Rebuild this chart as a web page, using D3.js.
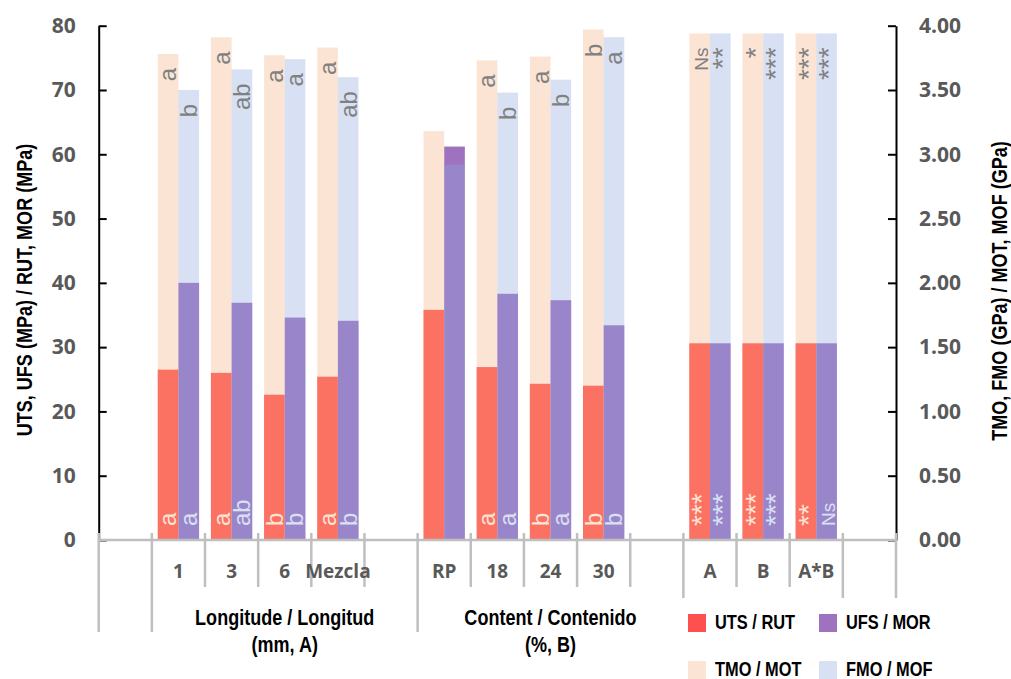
<!DOCTYPE html>
<html>
<head>
<meta charset="utf-8">
<script src="https://cdn.jsdelivr.net/npm/d3@7"></script>
<style>
  html, body { margin: 0; padding: 0; background: #fff; }
  svg { display: block; }
</style>
</head>
<body>
<svg id="chart" width="1011" height="679"></svg>
<script>
// Category slots along the x axis (empty strings are spacer slots)
const categories = ["", "1", "3", "6", "Mezcla", "", "RP", "18", "24", "30", "", "A", "B", "A*B", ""];

// Second-level groups of the category axis
const groupLines = [[], ["Longitude / Longitud", "(mm, A)"], ["Content / Contenido", "(%, B)"], [], []];
const groupSpans = [1, 5, 5, 3, 1];

// Strengths, MPa (left axis)
const utsValues = [null, 26.5, 26.0, 22.6, 25.4, null, 35.8, 26.9, 24.3, 24.0, null, 30.6, 30.6, 30.6, null];
const ufsValues = [null, 40.0, 36.9, 34.6, 34.1, null, 61.2, 38.3, 37.3, 33.4, null, 30.6, 30.6, 30.6, null];

// Moduli, GPa (right axis)
const tmoValues = [null, 3.78, 3.91, 3.77, 3.83, null, 3.18, 3.73, 3.76, 3.97, null, 3.94, 3.94, 3.94, null];
const fmoValues = [null, 3.50, 3.66, 3.74, 3.60, null, 2.92, 3.48, 3.58, 3.91, null, 3.94, 3.94, 3.94, null];

// Significance letters / ANOVA marks
const tmoMarks = ["", "a", "a", "a", "a", "", "", "a", "a", "b", "", "Ns", "*", "***", ""];
const fmoMarks = ["", "b", "ab", "a", "ab", "", "", "b", "b", "a", "", "**", "***", "***", ""];
const utsMarks = ["", "a", "a", "b", "a", "", "", "a", "b", "b", "", "***", "***", "**", ""];
const ufsMarks = ["", "a", "ab", "b", "b", "", "", "a", "a", "b", "", "***", "***", "Ns", ""];

// Axis ticks
const leftTicks = [0, 10, 20, 30, 40, 50, 60, 70, 80];
const rightTicks = [0, 0.5, 1, 1.5, 2, 2.5, 3, 3.5, 4];

// Series names for the legend
const seriesNames = ["UTS / RUT", "UFS / MOR", "TMO / MOT", "FMO / MOF"];

const COL = {
  uts: "#ff5050",
  ufs: "#9f72c0",
  tmo: "#f4b183",
  fmo: "#8faadc"
};
const OVERLAY_OPACITY = 0.35;
const BOLD = "'Liberation Sans', Arial, sans-serif";   // condensed via horizontal scale
const NARROW_SCALE = 0.82;
const SANS = "'Open Sans', 'Liberation Sans', sans-serif";
const LABEL_FONT = "'Liberation Sans', Arial, sans-serif";

const svg = d3.select("#chart");

const xLeft = 98.7, xRight = 896, yBase = 540, yTop = 25.7;

const x0 = d3.scaleBand().domain(d3.range(categories.length)).range([xLeft, xRight]).padding(0);
const x1 = d3.scaleBand().domain(["p", "s"]).range([0, x0.bandwidth()]).paddingInner(0).paddingOuter(0.287);
const yL = d3.scaleLinear().domain([0, 80]).range([yBase, yTop]);
const yR = d3.scaleLinear().domain([0, 4]).range([yBase, yTop]);

const idx = d3.range(categories.length);
const bw = x1.bandwidth();

const isStars = t => /^\*+$/.test(t);

function markStyle(sel, t) {
  sel.attr("font-family", LABEL_FONT)
     .attr("font-size", isStars(t) ? 28 : (t === "Ns" ? 19 : 24));
}

// Baseline position (rotated text) inside a bar
const markX = (i, k, t) => x0(i) + x1(k) + bw + (isStars(t) ? 1.5 : -2);

// Narrow bold text, placed at (x, y) with an optional rotation
function narrowText(parent, x, y, rot, str, size, anchor) {
  return parent.append("text")
    .attr("transform", `translate(${x},${y})${rot ? ` rotate(${rot})` : ""} scale(${NARROW_SCALE},1)`)
    .attr("text-anchor", anchor || "start")
    .attr("font-family", BOLD).attr("font-weight", 700).attr("font-size", size).attr("fill", "#000")
    .text(str);
}

// Primary series (strengths)
const gPrim = svg.append("g");
[["p", utsValues, COL.uts], ["s", ufsValues, COL.ufs]].forEach(([k, vals, c]) => {
  gPrim.selectAll(null).data(idx.filter(i => vals[i] != null)).enter().append("rect")
    .attr("x", i => x0(i) + x1(k))
    .attr("width", bw)
    .attr("y", i => yL(vals[i]))
    .attr("height", i => yBase - yL(vals[i]))
    .attr("fill", c);
});

// Marks at the foot of the strength bars
[["p", utsMarks], ["s", ufsMarks]].forEach(([k, marks]) => {
  idx.filter(i => marks[i]).forEach(i => {
    const px = markX(i, k, marks[i]), py = yBase - 14;
    gPrim.append("text")
      .attr("transform", `translate(${px},${py}) rotate(-90)`)
      .attr("text-anchor", "start")
      .attr("fill", "#ffffff")
      .text(marks[i])
      .call(markStyle, marks[i]);
  });
});

// Secondary series (moduli), translucent over the strengths
const gSec = svg.append("g");
[["p", tmoValues, COL.tmo], ["s", fmoValues, COL.fmo]].forEach(([k, vals, c]) => {
  gSec.selectAll(null).data(idx.filter(i => vals[i] != null)).enter().append("rect")
    .attr("x", i => x0(i) + x1(k))
    .attr("width", bw)
    .attr("y", i => yR(vals[i]))
    .attr("height", i => yBase - yR(vals[i]))
    .attr("fill", c)
    .attr("fill-opacity", OVERLAY_OPACITY);
});

// Marks near the top of the modulus bars
[["p", tmoMarks, tmoValues], ["s", fmoMarks, fmoValues]].forEach(([k, marks, vals]) => {
  idx.filter(i => marks[i]).forEach(i => {
    const px = markX(i, k, marks[i]), py = yR(vals[i]) + 14;
    gSec.append("text")
      .attr("transform", `translate(${px},${py}) rotate(-90)`)
      .attr("text-anchor", "end")
      .attr("fill", "#808080")
      .text(marks[i])
      .call(markStyle, marks[i]);
  });
});

// Left value axis
const axL = svg.append("g").attr("transform", `translate(${xLeft},0)`)
  .call(d3.axisLeft(yL).tickValues(leftTicks).tickSizeInner(-8).tickSizeOuter(0).tickPadding(23).tickFormat(d3.format("d")));
axL.select(".domain").attr("stroke", "#000").attr("stroke-width", 2);
axL.selectAll(".tick line").attr("stroke", "#000").attr("stroke-width", 2);
axL.selectAll(".tick text").attr("font-family", SANS).attr("font-weight", 700)
  .attr("font-size", 21).attr("fill", "#595959");

// Right value axis
const axR = svg.append("g").attr("transform", `translate(${xRight},0)`)
  .call(d3.axisRight(yR).tickValues(rightTicks).tickSizeInner(-8).tickSizeOuter(0).tickPadding(23).tickFormat(d3.format(".2f")));
axR.select(".domain").attr("stroke", "#000").attr("stroke-width", 2);
axR.selectAll(".tick line").attr("stroke", "#000").attr("stroke-width", 2);
axR.selectAll(".tick text").attr("font-family", SANS).attr("font-weight", 700)
  .attr("font-size", 21).attr("fill", "#595959");

// Axis titles
narrowText(svg, 24, 290, -90, "UTS, UFS (MPa) / RUT, MOR (MPa)", 22, "middle").attr("dominant-baseline", "central");
narrowText(svg, 999, 291, -90, "TMO, FMO (GPa) / MOT, MOF (GPa)", 22, "middle").attr("dominant-baseline", "central");

// Multi-level category axis
const gCat = svg.append("g");
const boundaries = d3.range(categories.length + 1).map(i => i < categories.length ? x0(i) : xRight);
const groupEdges = [0];
groupSpans.forEach(s => groupEdges.push(groupEdges[groupEdges.length - 1] + s));

boundaries.forEach((bx, i) => {
  gCat.append("line")
    .attr("x1", bx).attr("x2", bx)
    .attr("y1", yBase - 7).attr("y2", groupEdges.includes(i) ? 632 : 587)
    .attr("stroke", "#bfbfbf").attr("stroke-width", 2.5);
});
gCat.append("line")
  .attr("x1", xLeft).attr("x2", xRight).attr("y1", yBase).attr("y2", yBase)
  .attr("stroke", "#bfbfbf").attr("stroke-width", 2.5);

gCat.selectAll(null).data(idx.filter(i => categories[i])).enter().append("text")
  .attr("x", i => x0(i) + x0.bandwidth() / 2)
  .attr("y", 578)
  .attr("text-anchor", "middle")
  .attr("font-family", SANS).attr("font-weight", 700).attr("font-size", 19).attr("fill", "#595959")
  .text(i => categories[i]);

groupLines.forEach((lines, g) => {
  if (!lines.length) return;
  const cx = (boundaries[groupEdges[g]] + boundaries[groupEdges[g + 1]]) / 2;
  lines.forEach((ln, j) => narrowText(gCat, cx, 625 + j * 27, 0, ln, 22, "middle"));
});

// Legend
const gLeg = svg.append("g");
gLeg.append("rect").attr("x", 678).attr("y", 598).attr("width", 333).attr("height", 81).attr("fill", "#fff");
const legItems = [
  { name: seriesNames[0], fill: COL.uts, op: 1, x: 688, y: 614 },
  { name: seriesNames[1], fill: COL.ufs, op: 1, x: 819, y: 614 },
  { name: seriesNames[2], fill: COL.tmo, op: OVERLAY_OPACITY, x: 688, y: 661 },
  { name: seriesNames[3], fill: COL.fmo, op: OVERLAY_OPACITY, x: 819, y: 661 }
];
legItems.forEach(d => {
  gLeg.append("rect").attr("x", d.x).attr("y", d.y).attr("width", 18).attr("height", 18)
    .attr("fill", d.fill).attr("fill-opacity", d.op);
  narrowText(gLeg, d.x + 27, d.y + 15, 0, d.name, 20, "start");
});
</script>
</body>
</html>
